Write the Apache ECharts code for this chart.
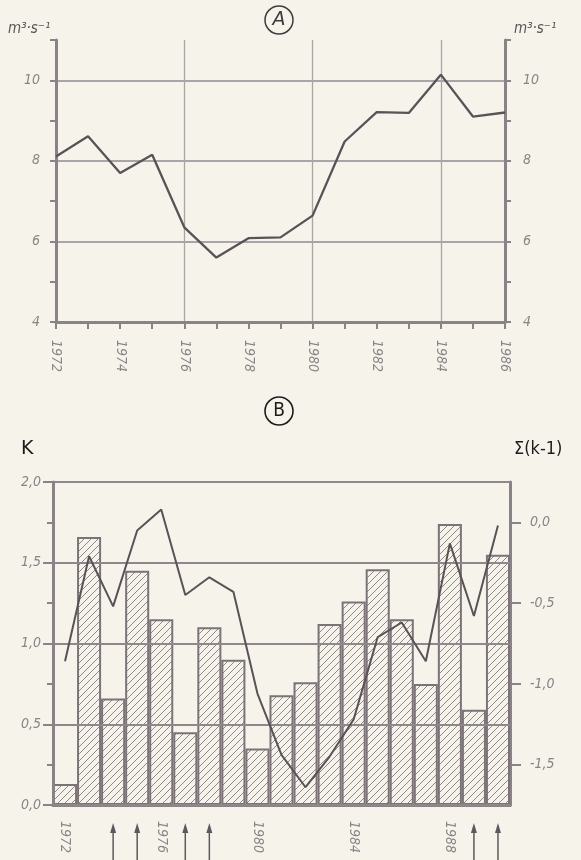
<!DOCTYPE html>
<html>
<head>
<meta charset="utf-8">
<script src="https://cdn.jsdelivr.net/npm/echarts@6/dist/echarts.min.js"></script>
<style>
  html, body { margin: 0; padding: 0; background: #f6f4ea; }
  #chart { width: 581px; height: 860px; }
</style>
</head>
<body>
<div id="chart"></div>
<script>
// Panel A: mean annual discharge (m3/s)
const yearsA = [1972, 1973, 1974, 1975, 1976, 1977, 1978, 1979, 1980, 1981, 1982, 1983, 1984, 1985, 1986];
const flowA = [8.11, 8.61, 7.70, 8.15, 6.35, 5.60, 6.08, 6.10, 6.64, 8.48, 9.21, 9.19, 10.14, 9.10, 9.20];
const ticksA = [4, 6, 8, 10];

// Panel B: modular coefficient k and its cumulative deviation
const yearsB = ['1972', '1973', '1974', '1975', '1976', '1977', '1978', '1979', '1980', '1981',
                '1982', '1983', '1984', '1985', '1986', '1987', '1988', '1989', '1990'];
const kValues = [0.13, 1.66, 0.66, 1.45, 1.15, 0.45, 1.10, 0.90, 0.35, 0.68,
                 0.76, 1.12, 1.26, 1.46, 1.15, 0.75, 1.74, 0.59, 1.55];
const sumDev = [-0.86, -0.21, -0.52, -0.05, 0.08, -0.45, -0.34, -0.43, -1.06, -1.44,
                -1.64, -1.45, -1.22, -0.71, -0.62, -0.86, -0.13, -0.58, -0.02];
const sumTicks = [0, -0.5, -1.0, -1.5];
const arrowYears = ['1974', '1975', '1977', '1978', '1989', '1990'];

const AXIS = '#8b8288';
const GRID = '#aaa3a7';
const INK = '#5a5257';
const LABEL = '#8a8488';
const labelFont = { color: LABEL, fontFamily: 'Liberation Sans Narrow, DejaVu Sans Condensed, sans-serif', fontStyle: 'italic', fontSize: 14 };
const comma = v => (Math.abs(v) < 1e-9 ? 0 : v).toFixed(1).replace('.', ',');

// diagonal hatch for the bars
function hatch() {
  const c = document.createElement('canvas');
  c.width = 7; c.height = 7;
  const g = c.getContext('2d');
  g.fillStyle = '#f6f4ea';
  g.fillRect(0, 0, 7, 7);
  g.strokeStyle = '#8e888b';
  g.lineWidth = 1;
  g.beginPath();
  g.moveTo(-1, 8); g.lineTo(8, -1);
  g.moveTo(-1, 1); g.lineTo(1, -1);
  g.moveTo(6, 8); g.lineTo(8, 6);
  g.stroke();
  return c;
}

const chart = echarts.init(document.getElementById('chart'));

chart.setOption({
  backgroundColor: '#f6f4ea',
  animation: false,
  grid: [
    { left: 56, right: 76, top: 40, bottom: 538 },
    { left: 53, right: 71, top: 482, bottom: 55 }
  ],
  xAxis: [
    {
      gridIndex: 0, type: 'value', min: 1972, max: 1986, interval: 2,
      axisLine: { lineStyle: { color: AXIS, width: 3 } },
      axisTick: { length: 7, lineStyle: { color: AXIS, width: 2 } },
      minorTick: { show: true, splitNumber: 2, length: 7, lineStyle: { color: AXIS, width: 2 } },
      axisLabel: Object.assign({ rotate: -90, margin: 18, formatter: v => String(v) }, labelFont),
      splitLine: { show: false }
    },
    {
      gridIndex: 0, type: 'value', min: 1972, max: 1986, interval: 4, position: 'bottom',
      axisLine: { show: false }, axisTick: { show: false }, axisLabel: { show: false },
      splitLine: { show: true, showMinLine: false, showMaxLine: false, lineStyle: { color: GRID, width: 1.3 } }
    },
    {
      gridIndex: 1, type: 'category', data: yearsB, boundaryGap: true,
      axisLine: { lineStyle: { color: AXIS, width: 3 } },
      axisTick: { alignWithLabel: true, interval: 0, length: 7, lineStyle: { color: AXIS, width: 2 } },
      axisLabel: Object.assign({ interval: 3, rotate: -90, margin: 16 }, labelFont),
      splitLine: { show: false }
    }
  ],
  yAxis: [
    {
      gridIndex: 0, type: 'value', min: 4, max: 11, interval: 1, position: 'left',
      axisLine: { show: true, lineStyle: { color: AXIS, width: 3 } },
      axisTick: { show: true, length: 6, customValues: [4, 5, 6, 7, 8, 9, 10, 11], lineStyle: { color: AXIS, width: 2 } },
      axisLabel: Object.assign({ margin: 16, customValues: ticksA }, labelFont),
      splitLine: { show: false }
    },
    {
      gridIndex: 0, type: 'value', min: 4, max: 11, interval: 1, position: 'right',
      axisLine: { show: true, lineStyle: { color: AXIS, width: 3 } },
      axisTick: { show: true, length: 6, customValues: [4, 5, 6, 7, 8, 9, 10, 11], lineStyle: { color: AXIS, width: 2 } },
      axisLabel: Object.assign({ margin: 18, customValues: ticksA }, labelFont),
      splitLine: { show: false }
    },
    {
      gridIndex: 0, type: 'value', min: 4, max: 11, interval: 2, position: 'left',
      axisLine: { show: false }, axisTick: { show: false }, axisLabel: { show: false },
      splitLine: { show: true, showMinLine: false, showMaxLine: false, lineStyle: { color: GRID, width: 1.8 } }
    },
    {
      gridIndex: 1, type: 'value', min: 0, max: 2, interval: 0.5, position: 'left', z: 3,
      axisLine: { show: true, lineStyle: { color: AXIS, width: 3 } },
      axisTick: { show: true, length: 10, lineStyle: { color: AXIS, width: 2 } },
      minorTick: { show: true, splitNumber: 2, length: 6, lineStyle: { color: AXIS, width: 2 } },
      axisLabel: Object.assign({ margin: 12, formatter: comma }, labelFont),
      splitLine: { show: true, lineStyle: { color: '#8f878c', width: 2 } }
    },
    {
      gridIndex: 1, type: 'value', min: -1.75, max: 0.25, position: 'right',
      axisLine: { show: true, lineStyle: { color: AXIS, width: 3 } },
      axisTick: { show: true, length: 11, customValues: sumTicks, lineStyle: { color: AXIS, width: 2 } },
      axisLabel: Object.assign({ margin: 20, customValues: sumTicks, formatter: comma }, labelFont),
      splitLine: { show: false }
    }
  ],
  series: [
    {
      type: 'line', xAxisIndex: 0, yAxisIndex: 0,
      data: yearsA.map((y, i) => [y, flowA[i]]),
      symbol: 'none', z: 4,
      lineStyle: { color: INK, width: 2.3 }
    },
    {
      type: 'bar', xAxisIndex: 2, yAxisIndex: 3,
      data: kValues, barCategoryGap: '0%',
      itemStyle: { color: { image: hatch(), repeat: 'repeat' }, borderColor: '#7c7378', borderWidth: 2 }
    },
    {
      type: 'line', xAxisIndex: 2, yAxisIndex: 4,
      data: sumDev, symbol: 'none', z: 4,
      lineStyle: { color: INK, width: 2 }
    },
    {
      type: 'custom', xAxisIndex: 2, yAxisIndex: 3, clip: false, silent: true,
      data: arrowYears.map(y => [y, 0]),
      renderItem: (params, api) => {
        const p = api.coord([api.value(0), 0]);
        const x = p[0], top = p[1] + 18;
        return {
          type: 'group',
          children: [
            { type: 'line', shape: { x1: x, y1: top + 6, x2: x, y2: top + 40 }, style: { stroke: '#5e585c', lineWidth: 1.5 } },
            { type: 'polygon', shape: { points: [[x, top], [x - 3, top + 10], [x + 3, top + 10]] }, style: { fill: '#5e585c' } }
          ]
        };
      }
    }
  ],
  graphic: [
    { type: 'circle', shape: { cx: 279, cy: 20, r: 14 }, style: { fill: 'none', stroke: '#3f3a3d', lineWidth: 1.5 } },
    { type: 'text', x: 279, y: 20, style: { text: 'A', fontSize: 19, fontStyle: 'italic', fontFamily: 'DejaVu Sans', fill: '#3f3a3d', align: 'center', verticalAlign: 'middle' } },
    { type: 'text', x: 8, y: 22, style: { text: 'm³·s⁻¹', fontSize: 15, fontStyle: 'italic', fontFamily: 'DejaVu Sans Condensed', fill: '#5b5558' } },
    { type: 'text', x: 514, y: 22, style: { text: 'm³·s⁻¹', fontSize: 15, fontStyle: 'italic', fontFamily: 'DejaVu Sans Condensed', fill: '#5b5558' } },
    { type: 'circle', shape: { cx: 279, cy: 411, r: 14 }, style: { fill: 'none', stroke: '#1e1b1d', lineWidth: 1.6 } },
    { type: 'text', x: 279, y: 411, style: { text: 'B', fontSize: 19, fontFamily: 'DejaVu Sans Condensed', fill: '#1e1b1d', align: 'center', verticalAlign: 'middle' } },
    { type: 'text', x: 21, y: 440, style: { text: 'K', fontSize: 19, fontFamily: 'DejaVu Sans', fill: '#1e1b1d' } },
    { type: 'text', x: 514, y: 440, style: { text: 'Σ(k-1)', fontSize: 18, fontFamily: 'DejaVu Sans Condensed', fill: '#1e1b1d' } }
  ]
});
</script>
</body>
</html>
